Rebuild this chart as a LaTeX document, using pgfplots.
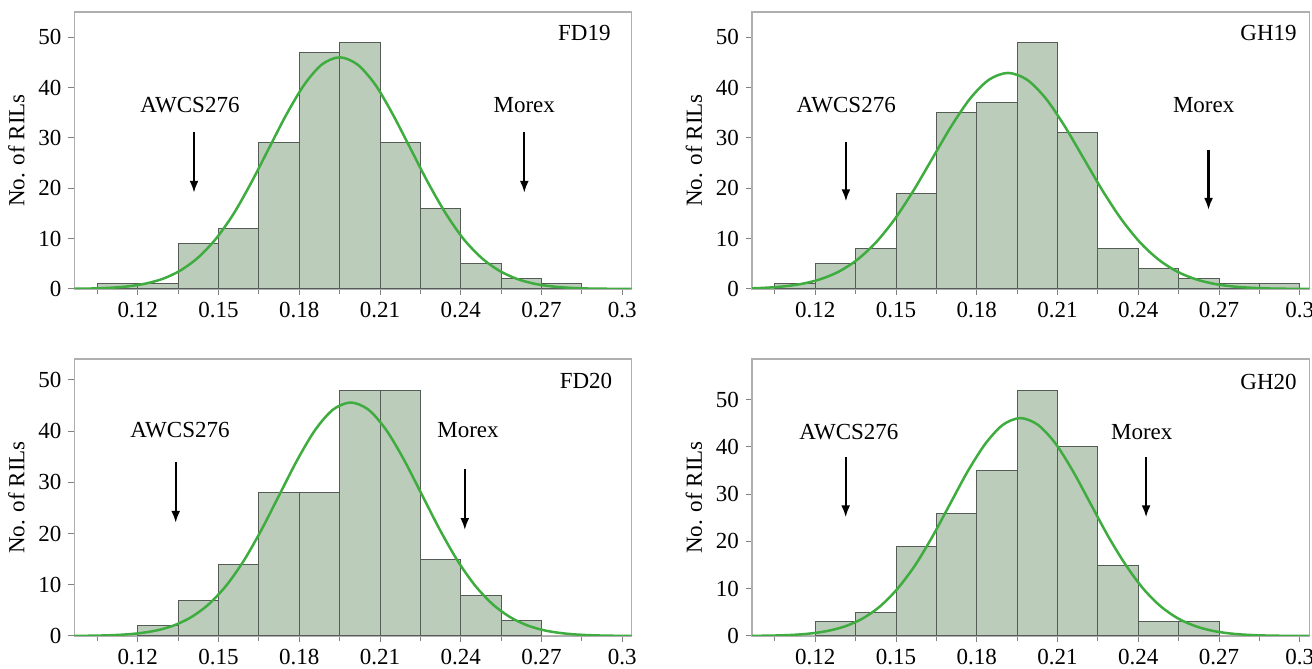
\documentclass[border=0pt]{standalone}
\usepackage{fontspec}
\setmainfont{Liberation Serif}
\usepackage{pgfplots}
\pgfplotsset{compat=1.18}
\usetikzlibrary{arrows.meta}

\definecolor{barfill}{RGB}{188,204,187}
\definecolor{baredge}{RGB}{85,92,85}
\definecolor{fitgreen}{RGB}{62,172,62}
\definecolor{boxgray}{RGB}{175,175,175}

\pgfplotsset{
  hist/.style={
    scale only axis, width=278.6pt, height=138.5pt,
    anchor=south west,
    xmin=0.0965, xmax=0.3035, ymin=0, ymax=55,
    xtick={0.12,0.15,0.18,0.21,0.24,0.27,0.3},
    xticklabels={0.12,0.15,0.18,0.21,0.24,0.27,0.3},
    minor xtick={0.105,0.135,0.165,0.195,0.225,0.255,0.285},
    ytick={0,10,20,30,40,50},
    tick align=outside, tick pos=left,
    major tick length=3pt, minor tick length=2.5pt,
    axis line style={draw=boxgray, line width=0.6pt},
    tick style={draw=gray, line width=0.5pt},
    /pgf/number format/assume math mode=true,
    ticklabel style={font=\fontsize{11.5}{13}\selectfont},
    label style={font=\fontsize{11.5}{13}\selectfont},
    ylabel={No. of RILs},
  },
  bars/.style={ybar interval, fill=barfill, draw=baredge, line width=0.5pt},
  fit/.style={fitgreen, line width=1.25pt, smooth},
}
\tikzset{
  lbl/.style={font=\fontsize{11.5}{13}\selectfont},
  arr/.style={-{Latex[length=6pt,width=4.5pt]}, line width=1.1pt},
}

\begin{document}
\begin{tikzpicture}
\path[use as bounding box] (0,0) rectangle (656pt,334.5pt);

% FD19
\begin{axis}[hist, at={(37.25pt,190pt)}]
  \addplot[bars] coordinates {(0.105,1) (0.12,1) (0.135,9) (0.15,12) (0.165,29) (0.18,47)
    (0.195,49) (0.21,29) (0.225,16) (0.24,5) (0.255,2) (0.27,1) (0.285,1)};
  \addplot[fit] coordinates {(0.0898,0.02) (0.1030,0.10) (0.1095,0.23) (0.1161,0.51)
    (0.1227,1.05) (0.1293,2.02) (0.1358,3.66) (0.1424,6.23) (0.1490,9.95) (0.1556,14.93)
    (0.1621,21.06) (0.1687,27.90) (0.1753,34.72) (0.1819,40.60) (0.1884,44.58) (0.1950,46.00)
    (0.2016,44.58) (0.2082,40.60) (0.2147,34.72) (0.2213,27.90) (0.2279,21.06) (0.2345,14.93)
    (0.2410,9.95) (0.2476,6.23) (0.2542,3.66) (0.2608,2.02) (0.2673,1.05) (0.2739,0.51)
    (0.2805,0.23) (0.2871,0.10) (0.3002,0.02) (0.3134,0.00)};
  \node[lbl] at (rel axis cs:0.915,0.924) {FD19};
  \node[lbl] at (axis cs:0.1394,36.6) {AWCS276};
  \node[lbl] at (axis cs:0.2636,36.6) {Morex};
  \draw[arr] (axis cs:0.1409,31.2) -- (axis cs:0.1409,19.1);
  \draw[arr] (axis cs:0.2636,31.2) -- (axis cs:0.2636,19.1);
\end{axis}

% GH19
\begin{axis}[hist, at={(376pt,190pt)}]
  \addplot[bars] coordinates {(0.105,1) (0.12,5) (0.135,8) (0.15,19) (0.165,35) (0.18,37)
    (0.195,49) (0.21,31) (0.225,8) (0.24,4) (0.255,2) (0.27,1) (0.285,1) (0.3,1)};
  \addplot[fit] coordinates {(0.0866,0.04) (0.0936,0.09) (0.1006,0.22) (0.1076,0.48)
    (0.1146,0.98) (0.1216,1.89) (0.1286,3.41) (0.1356,5.81) (0.1426,9.28) (0.1496,13.93)
    (0.1566,19.64) (0.1636,26.02) (0.1706,32.38) (0.1776,37.86) (0.1846,41.58) (0.1916,42.90)
    (0.1986,41.58) (0.2056,37.86) (0.2126,32.38) (0.2196,26.02) (0.2266,19.64) (0.2336,13.93)
    (0.2406,9.28) (0.2476,5.81) (0.2546,3.41) (0.2616,1.89) (0.2686,0.98) (0.2756,0.48)
    (0.2826,0.22) (0.2896,0.09) (0.2966,0.04) (0.3036,0.02) (0.3106,0.01)};
  \node[lbl] at (rel axis cs:0.927,0.924) {GH19};
  \node[lbl] at (axis cs:0.1315,36.6) {AWCS276};
  \node[lbl] at (axis cs:0.2643,36.6) {Morex};
  \draw[arr] (axis cs:0.1314,29.1) -- (axis cs:0.1314,17.4);
  \draw[arr] (axis cs:0.2661,27.6) -- (axis cs:0.2661,15.7);
\end{axis}

% FD20
\begin{axis}[hist, at={(37.25pt,16.5pt)}, ymax=54.1]
  \addplot[bars] coordinates {(0.12,2) (0.135,7) (0.15,14) (0.165,28) (0.18,28)
    (0.195,48) (0.21,48) (0.225,15) (0.24,8) (0.255,3) (0.27,3)};
  \addplot[fit] coordinates {(0.0936,0.02) (0.1002,0.04) (0.1068,0.10) (0.1134,0.23)
    (0.1200,0.51) (0.1266,1.04) (0.1331,2.00) (0.1397,3.63) (0.1463,6.17) (0.1529,9.86)
    (0.1595,14.80) (0.1661,20.88) (0.1727,27.66) (0.1793,34.42) (0.1859,40.24) (0.1925,44.20)
    (0.1991,45.60) (0.2057,44.20) (0.2123,40.24) (0.2189,34.42) (0.2255,27.66) (0.2321,20.88)
    (0.2387,14.80) (0.2453,9.86) (0.2519,6.17) (0.2585,3.63) (0.2651,2.00) (0.2716,1.04)
    (0.2782,0.51) (0.2848,0.23) (0.2914,0.10) (0.2980,0.04) (0.3046,0.02)};
  \node[lbl] at (rel axis cs:0.918,0.92) {FD20};
  \node[lbl] at (axis cs:0.1357,40.2) {AWCS276};
  \node[lbl] at (axis cs:0.2427,40.2) {Morex};
  \draw[arr] (axis cs:0.1341,34.0) -- (axis cs:0.1341,22.1);
  \draw[arr] (axis cs:0.2415,32.6) -- (axis cs:0.2415,20.7);
\end{axis}

% GH20
\begin{axis}[hist, at={(376pt,16.5pt)}, ymax=58.6]
  \addplot[bars] coordinates {(0.12,3) (0.135,5) (0.15,19) (0.165,26) (0.18,35)
    (0.195,52) (0.21,40) (0.225,15) (0.24,3) (0.255,3) (0.27,3)};
  \addplot[fit] coordinates {(0.0918,0.02) (0.0983,0.04) (0.1049,0.10) (0.1114,0.23)
    (0.1179,0.51) (0.1244,1.05) (0.1310,2.03) (0.1375,3.67) (0.1440,6.24) (0.1505,9.97)
    (0.1571,14.97) (0.1636,21.11) (0.1701,27.96) (0.1766,34.80) (0.1832,40.68) (0.1897,44.68)
    (0.1962,46.10) (0.2027,44.68) (0.2093,40.68) (0.2158,34.80) (0.2223,27.96) (0.2288,21.11)
    (0.2354,14.97) (0.2419,9.97) (0.2484,6.24) (0.2549,3.67) (0.2615,2.03) (0.2680,1.05)
    (0.2745,0.51) (0.2810,0.23) (0.2876,0.10) (0.2941,0.04) (0.3006,0.02) (0.3071,0.01)};
  \node[lbl] at (rel axis cs:0.927,0.918) {GH20};
  \node[lbl] at (axis cs:0.1325,43.2) {AWCS276};
  \node[lbl] at (axis cs:0.2413,43.2) {Morex};
  \draw[arr] (axis cs:0.1313,37.9) -- (axis cs:0.1313,25.1);
  \draw[arr] (axis cs:0.2429,37.9) -- (axis cs:0.2429,25.1);
\end{axis}
\end{tikzpicture}
\end{document}
